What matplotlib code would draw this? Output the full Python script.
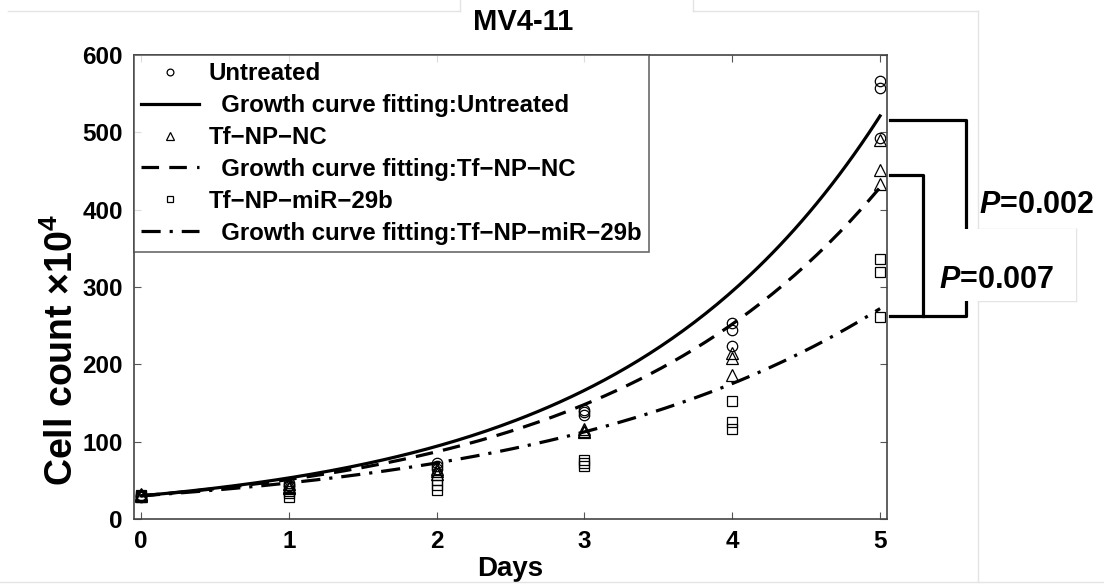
import numpy as np
import matplotlib
matplotlib.use('Agg')
import matplotlib.pyplot as plt
from matplotlib.lines import Line2D
from matplotlib.patches import Rectangle
from matplotlib.transforms import blended_transform_factory

plt.rcParams['font.family'] = ['Liberation Sans', 'DejaVu Sans']
plt.rcParams['font.weight'] = 'bold'
plt.rcParams['mathtext.fontset'] = 'custom'
plt.rcParams['mathtext.rm'] = 'Liberation Sans:bold'
plt.rcParams['mathtext.bf'] = 'Liberation Sans:bold'
plt.rcParams['mathtext.it'] = 'Liberation Sans:bold:italic'

# data (cell count x10^4, three replicates per day)
days = [0, 1, 2, 3, 4, 5]
untreated = [[30, 31, 29], [47, 44, 43], [72, 68, 65], [141, 138, 135], [253, 244, 224], [566, 557, 493]]
tf_np_nc = [[32, 31, 30], [45, 41, 40], [65, 62, 58], [117, 114, 112], [215, 208, 186], [490, 451, 433]]
tf_np_mir = [[30, 29, 31], [36, 33, 28], [50, 44, 38], [76, 72, 68], [152, 126, 116], [336, 319, 261]]

# fitted growth curves N = n0 * exp(rate * day)
fit_n0 = [30, 30, 30]
fit_rate = [0.571, 0.532, 0.441]

groups = ['Untreated', 'Tf\u2212NP\u2212NC', 'Tf\u2212NP\u2212miR\u221229b']
markers = ['o', '^', 's']
msizes = [7.5, 8.5, 7]
styles = ['-', (0, (5.5, 3.2)), (0, (6, 2.8, 1, 2.8))]

# p-value brackets (y levels in data units) and labels
bracket_y = [516, 445, 263]
p_values = ['0.002', '0.007']

W, H = 1104, 584
fig = plt.figure(figsize=(W / 100, H / 100), dpi=100)
ax = fig.add_axes([134 / W, 1 - 519 / H, (887 - 134) / W, (519 - 55) / H])

xs = np.linspace(0, 5, 200)
series = [untreated, tf_np_nc, tf_np_mir]
handles = []
for i in range(3):
    xd = np.repeat(days, 3)
    yd = np.array(series[i]).ravel()
    h1, = ax.plot(xd, yd, linestyle='none', marker=markers[i], ms=msizes[i],
                  mfc='none', mec='black', mew=0.9, label=groups[i])
    h2, = ax.plot(xs, fit_n0[i] * np.exp(fit_rate[i] * xs), color='black',
                  lw=2.3, linestyle=styles[i],
                  label='  Growth curve fitting:' + groups[i])
    handles += [h1, h2]

ax.set_xlim(-0.047, 5.047)
ax.set_ylim(0, 600)
ax.set_xticks(days)
ax.set_yticks(range(0, 601, 100))
ax.tick_params(direction='in', length=5, width=0.8, color='#555555',
               top=True, right=True, labelsize=17.5, pad=8)
for s in ax.spines.values():
    s.set_color('#444444')
    s.set_linewidth(1.2)
for lab in ax.get_xticklabels() + ax.get_yticklabels():
    lab.set_fontweight('bold')

leg = ax.legend(handles=handles, loc='upper left', bbox_to_anchor=(0, 1),
                borderaxespad=0, fontsize=17.3, frameon=True, fancybox=False,
                edgecolor='#444444', handlelength=2.4, handletextpad=0.4,
                labelspacing=0.37, borderpad=0.3, markerscale=0.65)
leg.get_frame().set_linewidth(1.2)
for t in leg.get_texts():
    t.set_fontweight('bold')

ax.set_xlabel('Days', fontsize=20, fontweight='bold', labelpad=2)
fig.text(62 / W, 1 - 350 / H, r'Cell count $\times10^{4}$', rotation=90,
         fontsize=27, fontweight='bold', ha='center', va='center')
fig.text(523 / W, 1 - 22 / H, 'MV4-11', fontsize=21, fontweight='bold',
         ha='center', va='center')

# brackets outside the axes
bt = blended_transform_factory(fig.transFigure, ax.transData)
x0, x1, x2 = 890 / W, 966 / W, 923 / W
ax.plot([x0, x1, x1, x0], [bracket_y[0], bracket_y[0], bracket_y[2], bracket_y[2]],
        color='black', lw=2.3, transform=bt, clip_on=False)
ax.plot([x0, x2, x2], [bracket_y[1], bracket_y[1], bracket_y[2]],
        color='black', lw=2.3, transform=bt, clip_on=False)

# white panel behind the second label, as in the source figure
fig.patches.append(Rectangle((935 / W, 1 - 301 / H), 141 / W, 72 / H,
                             transform=fig.transFigure, facecolor='white',
                             edgecolor='none', zorder=1))
fig.text(979 / W, 1 - 213 / H, r'$P$=' + p_values[0], fontsize=22,
         fontweight='bold', ha='left', va='baseline', zorder=3)
fig.text(939 / W, 1 - 288 / H, r'$P$=' + p_values[1], fontsize=22,
         fontweight='bold', ha='left', va='baseline', zorder=3)

# faint panel edges from the composite image
faint = [((8, 460), (11, 11)), ((460, 460), (0, 11)), ((693, 693), (0, 11)),
         ((693, 978), (11, 11)), ((978, 978), (11, 229)), ((978, 1076), (229, 229)),
         ((1076, 1076), (229, 301)), ((978, 1076), (301, 301)), ((978, 978), (301, 582)),
         ((0, 1104), (582, 582))]
for (xa, xb), (ya, yb) in faint:
    fig.lines.append(Line2D([xa / W, xb / W], [1 - ya / H, 1 - yb / H],
                            transform=fig.transFigure, color='#e4e4e4', lw=1, zorder=0.5))

fig.savefig('out.png', dpi=100, facecolor='white')
